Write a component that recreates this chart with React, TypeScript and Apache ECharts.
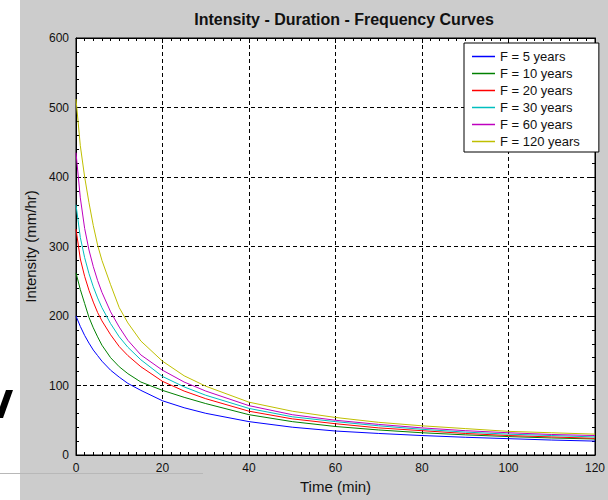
import React, { useEffect, useRef } from "react";
import * as echarts from "echarts";

const TITLE = "Intensity - Duration - Frequency Curves";
const X_NAME = "Time (min)";
const Y_NAME = "Intensity (mm/hr)";
const SERIES_NAMES = ["F = 5 years", "F = 10 years", "F = 20 years", "F = 30 years", "F = 60 years", "F = 120 years"];
const COLORS = ["#0000ff", "#008000", "#ff0000", "#00bfbf", "#bf00bf", "#bfbf00"];

const TIMES = [0, 1, 2, 3, 4, 5, 6, 8, 10, 12, 15, 20, 25, 30, 40, 50, 60, 70, 80, 90, 100, 110, 120];
const F5 = [200, 185, 172, 161, 151, 143, 135, 122, 112, 103, 93, 78, 68, 60, 48, 40, 34.5, 31, 28, 25.5, 23.5, 21.5, 20];
const F10 = [262, 238, 218, 198, 183, 170, 158, 140, 127, 117, 105, 93, 83, 74, 58, 48, 41, 36, 32, 29, 26.5, 24.5, 23];
const F20 = [325, 282, 257, 237, 220, 205, 193, 173, 156, 143, 127, 106, 92, 81, 63, 52, 45, 39, 35, 31, 28, 26, 24];
const F30 = [360, 313, 284, 261, 242, 226, 212, 189, 170, 155, 137, 113, 98, 86, 67, 55, 48, 42, 37, 33, 30, 28, 26];
const F60 = [435, 370, 326, 295, 271, 251, 234, 206, 184, 165, 144, 122, 105, 92, 71, 58, 50, 44, 39, 35, 32, 29.5, 28];
const F120 = [512, 445, 400, 363, 330, 302, 280, 245, 212, 190, 164, 135, 114, 99, 76, 63, 54, 47, 42, 38, 34, 32, 30];
const VALUES = [F5, F10, F20, F30, F60, F120];

const X_MIN = 0, X_MAX = 120, X_STEP = 20;
const Y_MIN = 0, Y_MAX = 600, Y_STEP = 100;

const FONT = "Liberation Sans";
const TXT = "#111";

export default function App() {
  const ref = useRef<HTMLDivElement>(null);
  useEffect(() => {
    if (!ref.current) return;
    const chart = echarts.init(ref.current, null, { renderer: "svg" });
    const tickStyle = { color: "#000", width: 1 };
    const baseX = {
      type: "value",
      min: X_MIN,
      max: X_MAX,
      interval: X_STEP,
      axisLine: { show: true, onZero: false, lineStyle: { color: "#000", width: 1 } },
      axisTick: { show: true, inside: true, length: 5, lineStyle: tickStyle },
      minorTick: { show: true, splitNumber: 10, length: 3, lineStyle: tickStyle },
    };
    const baseY = {
      type: "value",
      min: Y_MIN,
      max: Y_MAX,
      interval: Y_STEP,
      axisLine: { show: true, onZero: false, lineStyle: { color: "#000", width: 1 } },
      axisTick: { show: true, inside: true, length: 5, lineStyle: tickStyle },
      minorTick: { show: true, splitNumber: 5, length: 3, lineStyle: tickStyle },
    };
    chart.setOption({
      animation: false,
      backgroundColor: "#cccccc",
      textStyle: { fontFamily: FONT },
      title: {
        text: TITLE,
        left: 339,
        textAlign: "center",
        top: 6,
        textStyle: { fontFamily: FONT, fontSize: 16, fontWeight: "bold", color: TXT },
      },
      graphic: [
        { type: "rect", shape: { x: 0, y: 0, width: 20, height: 500 }, style: { fill: "#ffffff" }, z: -10 },
        { type: "line", shape: { x1: 0, y1: 473.5, x2: 203, y2: 473.5 }, style: { stroke: "#b8b8b8", lineWidth: 1 }, z: 10 },
        { type: "polygon", shape: { points: [[6, 390], [13, 390], [3, 418], [-4, 418]] }, style: { fill: "#000" }, z: 10 },
      ],
      legend: {
        orient: "vertical",
        left: 464,
        top: 43,
        padding: [5, 19, 2, 8],
        itemGap: 0,
        itemWidth: 23,
        itemHeight: 14,
        itemTextGap: 8,
        icon: "path://M0,0 L23,0 L23,1.5 L0,1.5 Z",
        symbolKeepAspect: true,
        backgroundColor: "#ffffff",
        borderColor: "#000",
        borderWidth: 1,
        borderRadius: 0,
        textStyle: { fontFamily: FONT, fontSize: 13, color: TXT, lineHeight: 17, height: 17 },
        data: SERIES_NAMES,
      },
      grid: {
        left: 76,
        right: 2,
        top: 38,
        bottom: 45,
        show: true,
        backgroundColor: "#ffffff",
        borderColor: "#000",
        borderWidth: 1,
        containLabel: false,
      },
      xAxis: [
        {
          ...baseX,
          position: "bottom",
          name: X_NAME,
          nameLocation: "middle",
          nameGap: 21,
          nameTextStyle: { fontFamily: FONT, fontSize: 15, color: TXT },
          axisLabel: { show: true, margin: 7, fontFamily: FONT, fontSize: 12, color: TXT },
          splitLine: { show: true, lineStyle: { color: "#000", type: [4, 3], width: 1 } },
        },
        {
          ...baseX,
          position: "top",
          axisLabel: { show: false },
          splitLine: { show: false },
        },
      ],
      yAxis: [
        {
          ...baseY,
          position: "left",
          name: Y_NAME,
          nameLocation: "middle",
          nameGap: 32,
          nameTextStyle: { fontFamily: FONT, fontSize: 15, color: TXT },
          axisLabel: { show: true, margin: 7, fontFamily: FONT, fontSize: 12, color: TXT },
          splitLine: { show: true, lineStyle: { color: "#000", type: [4, 3], width: 1 } },
        },
        {
          ...baseY,
          position: "right",
          axisLabel: { show: false },
          splitLine: { show: false },
        },
      ],
      series: SERIES_NAMES.map((name, i) => ({
        name,
        type: "line",
        xAxisIndex: 0,
        yAxisIndex: 0,
        symbol: "none",
        smooth: false,
        color: COLORS[i],
        lineStyle: { color: COLORS[i], width: 1 },
        data: TIMES.map((t, j) => [t, VALUES[i][j]]),
      })),
    });
    return () => chart.dispose();
  }, []);
  return <div ref={ref} style={{ position: "fixed", left: 0, top: 0, width: 608, height: 500 }} />;
}
